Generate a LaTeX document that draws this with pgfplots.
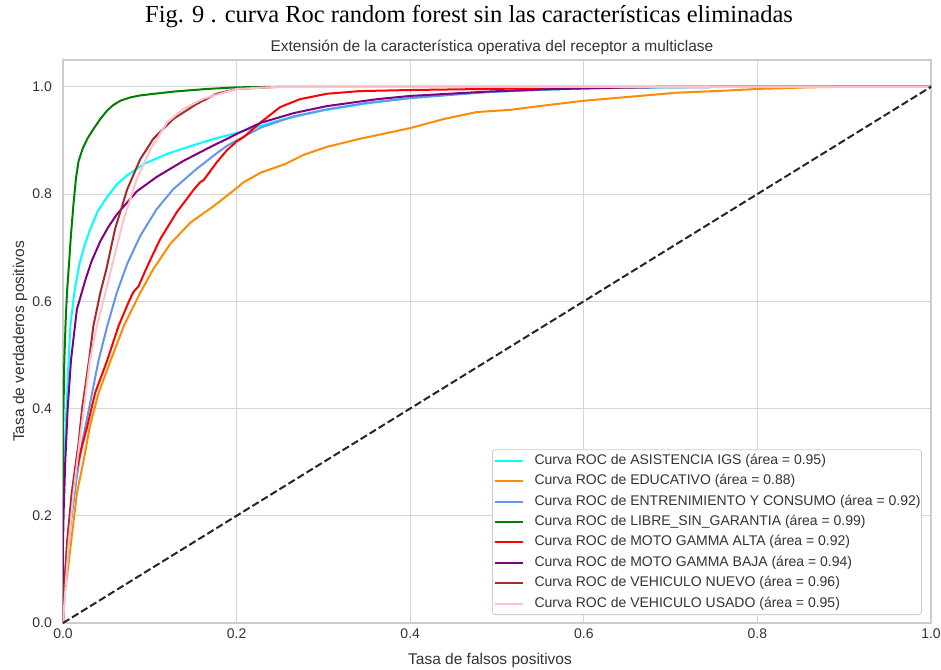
\documentclass[border=0pt]{standalone}
\usepackage{fontspec}
\setmainfont{Liberation Sans}
\newfontfamily\capfont{Liberation Serif}
\usepackage{pgfplots}
\pgfplotsset{compat=1.18}
\definecolor{gridgray}{HTML}{D6D6D6}
\definecolor{framegray}{HTML}{CCCCCC}
\definecolor{txtgray}{HTML}{333333}
\definecolor{aqua}{HTML}{00FFFF}
\definecolor{darkorange}{HTML}{FF8C00}
\definecolor{cornflower}{HTML}{6495ED}
\definecolor{mplgreen}{HTML}{008000}
\definecolor{mplred}{HTML}{FF0000}
\definecolor{mplpurple}{HTML}{800080}
\definecolor{mplbrown}{HTML}{A52A2A}
\definecolor{mplpink}{HTML}{FFC0CB}
\begin{document}
\begin{tikzpicture}
\useasboundingbox (-63pt,-46pt) rectangle (878pt,623pt);
\begin{axis}[
  at={(0pt,0pt)}, anchor=south west,
  scale only axis, width=868pt, height=563pt,
  xmin=0, xmax=1, ymin=0, ymax=1.05,
  xtick={0,0.2,0.4,0.6,0.8,1}, xticklabels={0.0,0.2,0.4,0.6,0.8,1.0},
  ytick={0,0.2,0.4,0.6,0.8,1}, yticklabels={0.0,0.2,0.4,0.6,0.8,1.0},
  major tick length=0pt,
  grid=major, major grid style={draw=gridgray, line width=1pt},
  axis line style={draw=framegray, line width=1.25pt},
  tick label style={font=\fontsize{14}{16}\selectfont, text=txtgray, inner sep=0pt},
  xticklabel style={yshift=-6pt},
  yticklabel style={xshift=-11pt},
  legend style={at={(axis description cs:0.9896,0.0142)}, anchor=south east,
    draw=framegray, line width=0.8pt, fill=white, rounded corners=3pt,
    font=\fontsize{14}{16}\selectfont, text=txtgray,
    inner xsep=1pt, inner ysep=4.5pt, row sep=7.4pt,
    nodes={inner sep=0pt, text height=10pt, text depth=3pt},
    /tikz/every odd column/.append style={column sep=11pt}},
  legend cell align=left,
  legend image code/.code={\draw[#1] (0pt,0pt) -- (28pt,0pt);},
  every axis plot/.append style={line width=2pt, line join=round},
]
\addplot[color=aqua] coordinates {
(0,0) (0,0.2) (0.001,0.30) (0.0023,0.336) (0.004,0.40) (0.0065,0.49) (0.0085,0.554)
(0.013,0.616) (0.019,0.67) (0.025,0.705) (0.031,0.733) (0.04,0.768) (0.051,0.795)
(0.062,0.818) (0.074,0.835) (0.093,0.856)
(0.12,0.875) (0.154,0.893) (0.174,0.903) (0.2,0.914) (0.25,0.938) (0.3,0.956)
(0.35,0.969) (0.4,0.979) (0.45,0.986) (0.5,0.991) (0.6,0.997) (0.7,0.999) (0.8,1) (1,1)};
\addlegendentry{Curva ROC de ASISTENCIA IGS (área = 0.95)}
\addplot[color=darkorange] coordinates {
(0,0) (0.0015,0.05) (0.0046,0.087) (0.0092,0.149) (0.016,0.242) (0.024,0.305)
(0.031,0.367) (0.041,0.429) (0.055,0.49) (0.07,0.554) (0.089,0.616) (0.104,0.66)
(0.124,0.708) (0.147,0.747) (0.174,0.778) (0.189,0.797) (0.2,0.811) (0.208,0.822)
(0.228,0.84) (0.256,0.856) (0.277,0.873) (0.304,0.888) (0.342,0.903) (0.4,0.923)
(0.439,0.94) (0.477,0.953) (0.515,0.957) (0.554,0.965) (0.6,0.974) (0.65,0.981)
(0.707,0.989) (0.765,0.993) (0.8,0.996) (0.861,0.999) (0.9,1) (1,1)};
\addlegendentry{Curva ROC de EDUCATIVO (área = 0.88)}
\addplot[color=cornflower] coordinates {
(0,0) (0.002,0.09) (0.0085,0.18) (0.016,0.274) (0.022,0.336) (0.030,0.40) (0.041,0.49)
(0.051,0.554) (0.062,0.616) (0.074,0.67) (0.089,0.722) (0.108,0.772) (0.127,0.809)
(0.154,0.847) (0.177,0.876) (0.189,0.89) (0.2,0.9) (0.208,0.907) (0.228,0.924)
(0.266,0.945) (0.304,0.958) (0.35,0.97) (0.4,0.979) (0.488,0.99) (0.55,0.995)
(0.65,0.999) (0.8,1) (1,1)};
\addlegendentry{Curva ROC de ENTRENIMIENTO Y CONSUMO (área = 0.92)}
\addplot[color=mplgreen] coordinates {
(0,0) (0,0.35) (0.0008,0.42) (0.0015,0.49) (0.003,0.56) (0.0046,0.616) (0.0065,0.66)
(0.009,0.72) (0.012,0.78) (0.015,0.83) (0.018,0.862) (0.023,0.886) (0.028,0.903) (0.035,0.921)
(0.043,0.94) (0.051,0.956) (0.058,0.966) (0.066,0.974) (0.077,0.98) (0.089,0.984) (0.127,0.991)
(0.166,0.996) (0.2,0.999) (0.25,1) (1,1)};
\addlegendentry{Curva ROC de LIBRE\_SIN\_GARANTIA (área = 0.99)}
\addplot[color=mplred] coordinates {
(0,0) (0.0027,0.087) (0.0077,0.18) (0.014,0.274) (0.02,0.317) (0.028,0.367)
(0.037,0.429) (0.051,0.49) (0.064,0.554) (0.076,0.6) (0.081,0.617) (0.087,0.628) (0.097,0.665)
(0.112,0.716) (0.131,0.766) (0.151,0.809) (0.158,0.822) (0.162,0.826) (0.177,0.859) (0.189,0.882)
(0.2,0.898) (0.208,0.906) (0.228,0.934) (0.25,0.962) (0.273,0.977) (0.304,0.987)
(0.342,0.992) (0.4,0.994) (0.488,0.996) (0.6,0.998) (0.7,1) (1,1)};
\addlegendentry{Curva ROC de MOTO GAMMA ALTA (área = 0.92)}
\addplot[color=mplpurple] coordinates {
(0,0) (0,0.15) (0.0008,0.211) (0.0027,0.305) (0.0054,0.40) (0.0092,0.49) (0.016,0.585)
(0.026,0.641) (0.033,0.675) (0.043,0.712) (0.052,0.738) (0.062,0.762) (0.085,0.805) (0.108,0.832)
(0.139,0.862) (0.170,0.888) (0.189,0.903) (0.2,0.912) (0.228,0.933) (0.266,0.951)
(0.304,0.964) (0.362,0.977) (0.4,0.983) (0.488,0.991) (0.55,0.995) (0.65,0.999)
(0.8,1) (1,1)};
\addlegendentry{Curva ROC de MOTO GAMMA BAJA (área = 0.94)}
\addplot[color=mplbrown] coordinates {
(0,0) (0.001,0.055) (0.0046,0.149) (0.010,0.242) (0.018,0.336) (0.022,0.40)
(0.030,0.49) (0.035,0.554) (0.043,0.616) (0.05,0.66) (0.060,0.735) (0.074,0.809)
(0.089,0.865) (0.104,0.903) (0.127,0.94) (0.154,0.968) (0.177,0.987) (0.2,0.996)
(0.25,1) (1,1)};
\addlegendentry{Curva ROC de VEHICULO NUEVO (área = 0.96)}
\addplot[color=mplpink] coordinates {
(0,0) (0.0065,0.149) (0.012,0.242) (0.019,0.336) (0.024,0.40) (0.031,0.49)
(0.039,0.554) (0.049,0.616) (0.057,0.67) (0.070,0.753) (0.085,0.828) (0.101,0.884)
(0.12,0.934) (0.139,0.959) (0.162,0.978) (0.2,0.996) (0.25,1) (1,1)};
\addlegendentry{Curva ROC de VEHICULO USADO (área = 0.95)}
\addplot[forget plot, color=black!85, dash pattern=on 7.4pt off 3.2pt] coordinates {(0,0) (1,1)};
\end{axis}
\node[font=\capfont\fontsize{24.5}{28}\selectfont, text=black] at (406pt,606pt) {Fig. 9 . curva Roc random forest sin las características eliminadas};
\node[font=\fontsize{15.5}{18}\selectfont, text=txtgray] at (429pt,576pt) {Extensión de la característica operativa del receptor a multiclase};
\node[font=\fontsize{15.5}{18}\selectfont, text=txtgray] at (427pt,-37pt) {Tasa de falsos positivos};
\node[font=\fontsize{15.5}{18}\selectfont, text=txtgray, rotate=90] at (-43pt,281.5pt) {Tasa de verdaderos positivos};
\end{tikzpicture}
\end{document}
